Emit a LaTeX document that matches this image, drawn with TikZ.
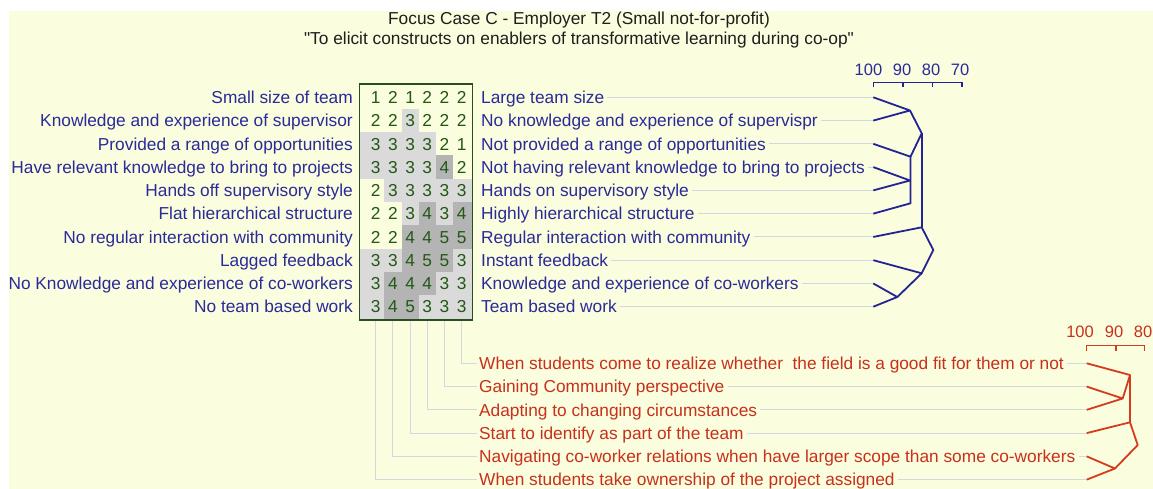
\documentclass[tikz,border=0pt]{standalone}
\usepackage{fontspec}
\setmainfont{Liberation Sans}
\newfontfamily\qfont{Liberation Sans}
\definecolor{bg}{RGB}{250,253,222}
\definecolor{blueT}{RGB}{42,42,152}
\definecolor{blueL}{RGB}{35,35,150}
\definecolor{redT}{RGB}{200,48,28}
\definecolor{redL}{RGB}{212,60,30}
\definecolor{grayL}{RGB}{212,214,224}
\definecolor{greenN}{RGB}{34,88,20}
\definecolor{greenB}{RGB}{40,80,30}
\definecolor{shA}{RGB}{218,218,218}
\definecolor{shB}{RGB}{180,180,180}
\begin{document}
\begin{tikzpicture}[x=1pt,y=-1pt,
  lbl/.style={inner sep=0pt,font=\fontsize{17.3}{20}\selectfont},
  lft/.style={lbl,anchor=base east,text=blueT},
  rgt/.style={lbl,anchor=base west,text=blueT},
  rlbl/.style={lbl,anchor=base west,text=redT},
  num/.style={lbl,anchor=base,text=greenN},
  axl/.style={inner sep=0pt,anchor=base,font=\fontsize{16.5}{19}\selectfont},
  guide/.style={draw=grayL,line width=1.1pt},
  bden/.style={draw=blueL,line width=1.8pt,line join=round},
  rden/.style={draw=redL,line width=1.8pt,line join=round},
  ttl/.style={inner sep=0pt,anchor=base,text={rgb,255:red,30;green,30;blue,30},font=\qfont\fontsize{17.3}{20}\selectfont}]
\useasboundingbox (0,0) rectangle (1153,489);
\fill[bg] (9,11) rectangle (1153,489);
% title
\node[ttl] (t1) at (579,25) {Focus Case C - Employer T2 (Small not-for-profit)};
\node[ttl] (t2) at (579,44.5) {"To elicit constructs on enablers of transformative learning during co-op"};
% grid cells
\foreach \r/\vals in {1/{1,2,1,2,2,2},2/{2,2,3,2,2,2},3/{3,3,3,3,2,1},4/{3,3,3,3,4,2},5/{2,3,3,3,3,3},6/{2,2,3,4,3,4},7/{2,2,4,4,5,5},8/{3,3,4,5,5,3},9/{3,4,4,4,3,3},10/{3,4,5,3,3,3}}{
  \pgfmathsetmacro\yc{97.3+23.27*(\r-1)}
  \pgfmathsetmacro\ytop{\r==1 ? 84 : \yc-11.635}
  \pgfmathsetmacro\ybot{\r==10 ? 320 : \yc+11.635}
  \foreach \v [count=\c] in \vals {
    \pgfmathsetmacro\xc{375.7+17.2*(\c-1)}
    \pgfmathsetmacro\xl{\c==1 ? 359.5 : \xc-8.6}
    \pgfmathsetmacro\xr{\c==6 ? 472.5 : \xc+8.6}
    \ifnum\v=3 \fill[shA] (\xl,\ytop) rectangle (\xr,\ybot);\fi
    \ifnum\v>3 \fill[shB] (\xl,\ytop) rectangle (\xr,\ybot);\fi
    \node[num] (n\r-\c) at (\xc,\yc+6.2) {\v};
  }
}
\draw[greenB,line width=1.5pt] (359.5,84) rectangle (472.5,320);
% construct labels
\foreach \r/\lt/\rt in {1/Small size of team/Large team size,
  2/Knowledge and experience of supervisor/No knowledge and experience of supervispr,
  3/Provided a range of opportunities/Not provided a range of opportunities,
  4/Have relevant knowledge to bring to projects/Not having relevant knowledge to bring to projects,
  5/Hands off supervisory style/Hands on supervisory style,
  6/Flat hierarchical structure/Highly hierarchical structure,
  7/No regular interaction with community/Regular interaction with community,
  8/Lagged feedback/Instant feedback,
  9/No Knowledge and experience of co-workers/Knowledge and experience of co-workers,
  10/No team based work/Team based work}{
  \pgfmathsetmacro\yc{97.3+23.27*(\r-1)}
  \node[lft] (L\r) at (353,\yc+6.2) {\lt};
  \node[rgt] (R\r) at (481,\yc+6.2) {\rt};
  \coordinate (B\r) at (873.3,\yc);
  \draw[guide] ([xshift=3pt]R\r.east |- B\r) -- (B\r);
}
% element labels
\foreach \j/\et in {1/When students come to realize whether\ \ the field is a good fit for them or not,
  2/Gaining Community perspective,
  3/Adapting to changing circumstances,
  4/Start to identify as part of the team,
  5/Navigating co-worker relations when have larger scope than some co-workers,
  6/When students take ownership of the project assigned}{
  \pgfmathsetmacro\yc{363.3+23.27*(\j-1)}
  \node[rlbl] (E\j) at (479,\yc+6.2) {\et};
  \coordinate (D\j) at (1086.7,\yc);
  \pgfmathtruncatemacro\col{7-\j}
  \draw[guide] (n10-\col |- 0,320.8) |- ([xshift=-2pt]E\j.west |- D\j);
  \draw[guide] ([xshift=3pt]E\j.east |- D\j) -- (D\j);
}
% blue dendrogram
\coordinate (J12) at (910,110.5);
\coordinate (J3) at (910.5,156.7);
\coordinate (J45) at (910,180.5);
\coordinate (J6) at (910.5,203.3);
\coordinate (JA) at (921.7,133.3);
\coordinate (JB) at (921.7,227.3);
\coordinate (JR) at (933.3,250);
\coordinate (JC) at (921.7,273.3);
\coordinate (J910) at (897.3,297);
\draw[bden] (B1) -- (J12) -- (B2);
\draw[bden] (J12) -- (JA) -- (J3);
\draw[bden] (B3) -- (J3) -- (J6) -- (B6);
\draw[bden] (B4) -- (J45) -- (B5);
\draw[bden] (JA) -- (JB);
\draw[bden] (B7) -- (JB) -- (JR) -- (JC) -- (B8);
\draw[bden] (JC) -- (J910);
\draw[bden] (B9) -- (J910) -- (B10);
% blue scale
\coordinate (S100) at (873.3,82.3);
\coordinate (S90) at (903,82.3);
\coordinate (S80) at (932.5,82.3);
\coordinate (S70) at (962,82.3);
\draw[draw=blueL,line width=1.4pt] ([yshift=-5pt]S100) -- (S100) -- (S70) -- ([yshift=-5pt]S70);
\draw[draw=blueL,line width=1.4pt] (S90) -- ([yshift=-5pt]S90) (S80) -- ([yshift=-5pt]S80);
\node[axl,text=blueT] (a100) at (868.5,76) {100};
\node[axl,text=blueT] (a90) at (902,76) {90};
\node[axl,text=blueT] (a80) at (931,76) {80};
\node[axl,text=blueT] (a70) at (960,76) {70};
% red dendrogram
\coordinate (K1) at (1130,375);
\coordinate (K23) at (1122.7,398.5);
\coordinate (K4) at (1130,422.3);
\coordinate (KR) at (1137.7,445);
\coordinate (K56) at (1115,468.5);
\draw[rden] (D1) -- (K1);
\draw[rden] (D2) -- (K23) -- (D3);
\draw[rden] (K23) -- (K1) -- (K4);
\draw[rden] (D4) -- (K4) -- (KR) -- (K56);
\draw[rden] (D5) -- (K56) -- (D6);
% red scale
\coordinate (T100) at (1086.7,345.7);
\coordinate (T90) at (1116,345.7);
\coordinate (T80) at (1144.5,345.7);
\draw[draw=redL,line width=1.4pt] ([yshift=-5.5pt]T100) -- (T100) -- (T80) -- ([yshift=-5.5pt]T80);
\draw[draw=redL,line width=1.4pt] (T90) -- ([yshift=-5.5pt]T90);
\node[axl,text=redT] (b100) at (1080,337.5) {100};
\node[axl,text=redT] (b90) at (1114,337.5) {90};
\node[axl,text=redT] (b80) at (1143,337.5) {80};
\end{tikzpicture}
\end{document}
